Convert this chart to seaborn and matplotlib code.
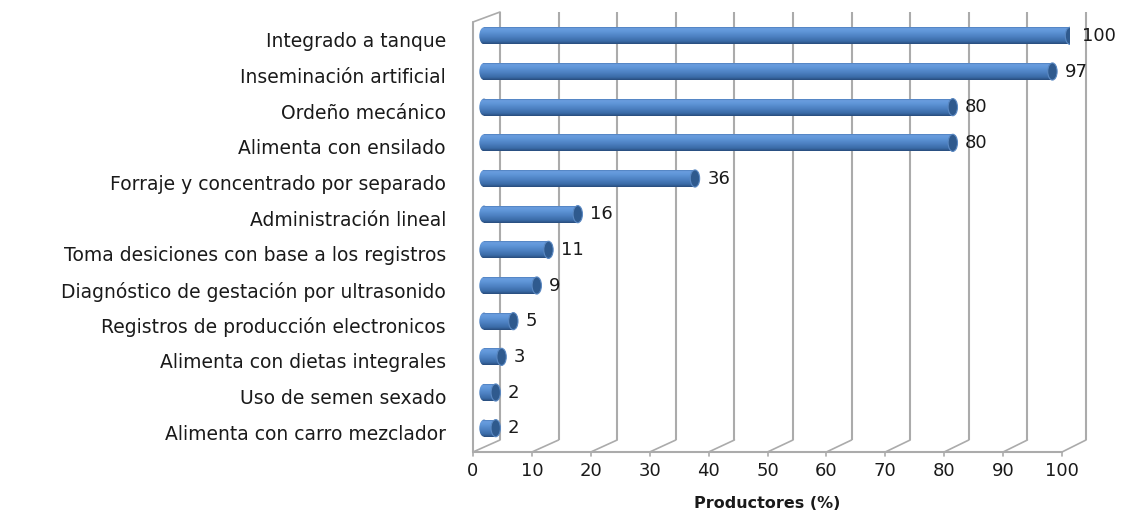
import numpy as np
import pandas as pd
import matplotlib
matplotlib.use("Agg")
import matplotlib.pyplot as plt
import seaborn as sns
from matplotlib.patches import Ellipse
from matplotlib.colors import to_rgb
from matplotlib.transforms import ScaledTranslation

categories = [
    "Integrado a tanque",
    "Inseminación artificial",
    "Ordeño mecánico",
    "Alimenta con ensilado",
    "Forraje y concentrado por separado",
    "Administración lineal",
    "Toma desiciones con base a los registros",
    "Diagnóstico de gestación por ultrasonido",
    "Registros de producción electronicos",
    "Alimenta con dietas integrales",
    "Uso de semen sexado",
    "Alimenta con carro mezclador",
]
values = [100, 97, 80, 80, 36, 16, 11, 9, 5, 3, 2, 2]
x_ticks = [0, 10, 20, 30, 40, 50, 60, 70, 80, 90, 100]
x_label = "Productores (%)"

df = pd.DataFrame({"cat": categories, "val": values})

sns.set_style("white")
plt.rcParams["font.family"] = ["DejaVu Sans"]

W, H = 1131, 511
fig = plt.figure(figsize=(W / 100, H / 100), dpi=100)
fig.patch.set_facecolor("white")

# background overlay in pixel coordinates for the 3D frame
bg = fig.add_axes([0, 0, 1, 1])
bg.set_xlim(0, W)
bg.set_ylim(H, 0)
bg.axis("off")

grid_c = "#ababab"
def xb(v):  # back wall
    return 500 + 5.86 * v
def xf(v):  # front floor
    return 473 + 5.89 * v

back_top, back_bot = 12, 440
front_y = 452
for v in x_ticks:
    bg.plot([xb(v), xb(v)], [back_top, back_bot], color=grid_c, lw=1.5, solid_capstyle="butt")
    bg.plot([xf(v), xb(v)], [front_y, back_bot], color=grid_c, lw=1.2)
    bg.plot([xf(v), xf(v)], [front_y, front_y + 4], color=grid_c, lw=1.2)
    bg.text(xf(v), 471, str(v), ha="center", va="center", fontsize=13, color="#1a1a1a")
# left wall
bg.plot([xf(0), xf(0)], [22, front_y], color=grid_c, lw=1.5)
bg.plot([xf(0), xb(0)], [22, back_top], color=grid_c, lw=1.2)
# floor front edge
bg.plot([xf(0), xf(100)], [front_y, front_y], color=grid_c, lw=1.5)
bg.text(767, 503, x_label, ha="center", va="center", fontsize=11.5, fontweight="bold", color="#1a1a1a")

# main axes: bars
xmin = -1.5
zero_px, hundred_px = 484, 1070
ppu = (hundred_px - zero_px) / 100
left_px = zero_px + xmin * ppu
top_px, bot_px = 18, 446
ax = fig.add_axes([left_px / W, (H - bot_px) / H, (hundred_px - left_px) / W, (bot_px - top_px) / H])
ax.patch.set_alpha(0)
sns.barplot(data=df, y="cat", x="val", orient="h", color="#4f81bd", width=0.48,
            saturation=1, ax=ax, linewidth=0, zorder=3)
ax.set_xlim(xmin, 100)
ax.set_ylim(len(categories) - 0.5, -0.5)

stops = [(0.0, "#34609a"), (0.12, "#6a9edf"), (0.3, "#6096d8"), (0.6, "#4b7fc0"),
         (0.85, "#3a6aa6"), (1.0, "#284c7c")]
N = 64
t = np.linspace(0, 1, N)
grad = np.zeros((N, 1, 3))
for ch in range(3):
    grad[:, 0, ch] = np.interp(t, [s[0] for s in stops], [to_rgb(s[1])[ch] for s in stops])

for p, v in zip(ax.patches, values):
    y0 = p.get_y()
    h = p.get_height()
    yc = y0 + h / 2
    x1 = p.get_x() + p.get_width()
    im = ax.imshow(grad, extent=(0, x1, y0 + h, y0), origin="upper", aspect="auto",
                   interpolation="bilinear", zorder=4)
    im.set_clip_path(p)
    le = Ellipse((0, yc), 1.6, h, facecolor="none", edgecolor="none", zorder=2)
    ax.add_patch(le)
    im2 = ax.imshow(grad, extent=(-0.9, 0.9, y0 + h, y0), origin="upper", aspect="auto",
                    interpolation="bilinear", zorder=4)
    im2.set_clip_path(le)
    cap = Ellipse((x1, yc), 1.6, h, facecolor="#2f5a8e", edgecolor="#5a88c2", lw=0.8, zorder=5)
    ax.add_patch(cap)
    ax.text(x1 + 2.1, yc, str(v), ha="left", va="center", fontsize=13, color="#1a1a1a", zorder=6)

ax.set_xlim(xmin, 100)
ax.set_ylim(len(categories) - 0.5, -0.5)
ax.set_xlabel("")
ax.set_ylabel("")
ax.set_xticks([])
for s in ax.spines.values():
    s.set_visible(False)
ax.tick_params(axis="y", length=0, pad=(left_px - 446) * 72 / 100,
               labelsize=13.5, labelcolor="#1a1a1a")
off = ScaledTranslation(0, -4 / 100, fig.dpi_scale_trans)
for lbl in ax.get_yticklabels():
    lbl.set_transform(lbl.get_transform() + off)

fig.savefig("out.png", dpi=100, facecolor="white")
